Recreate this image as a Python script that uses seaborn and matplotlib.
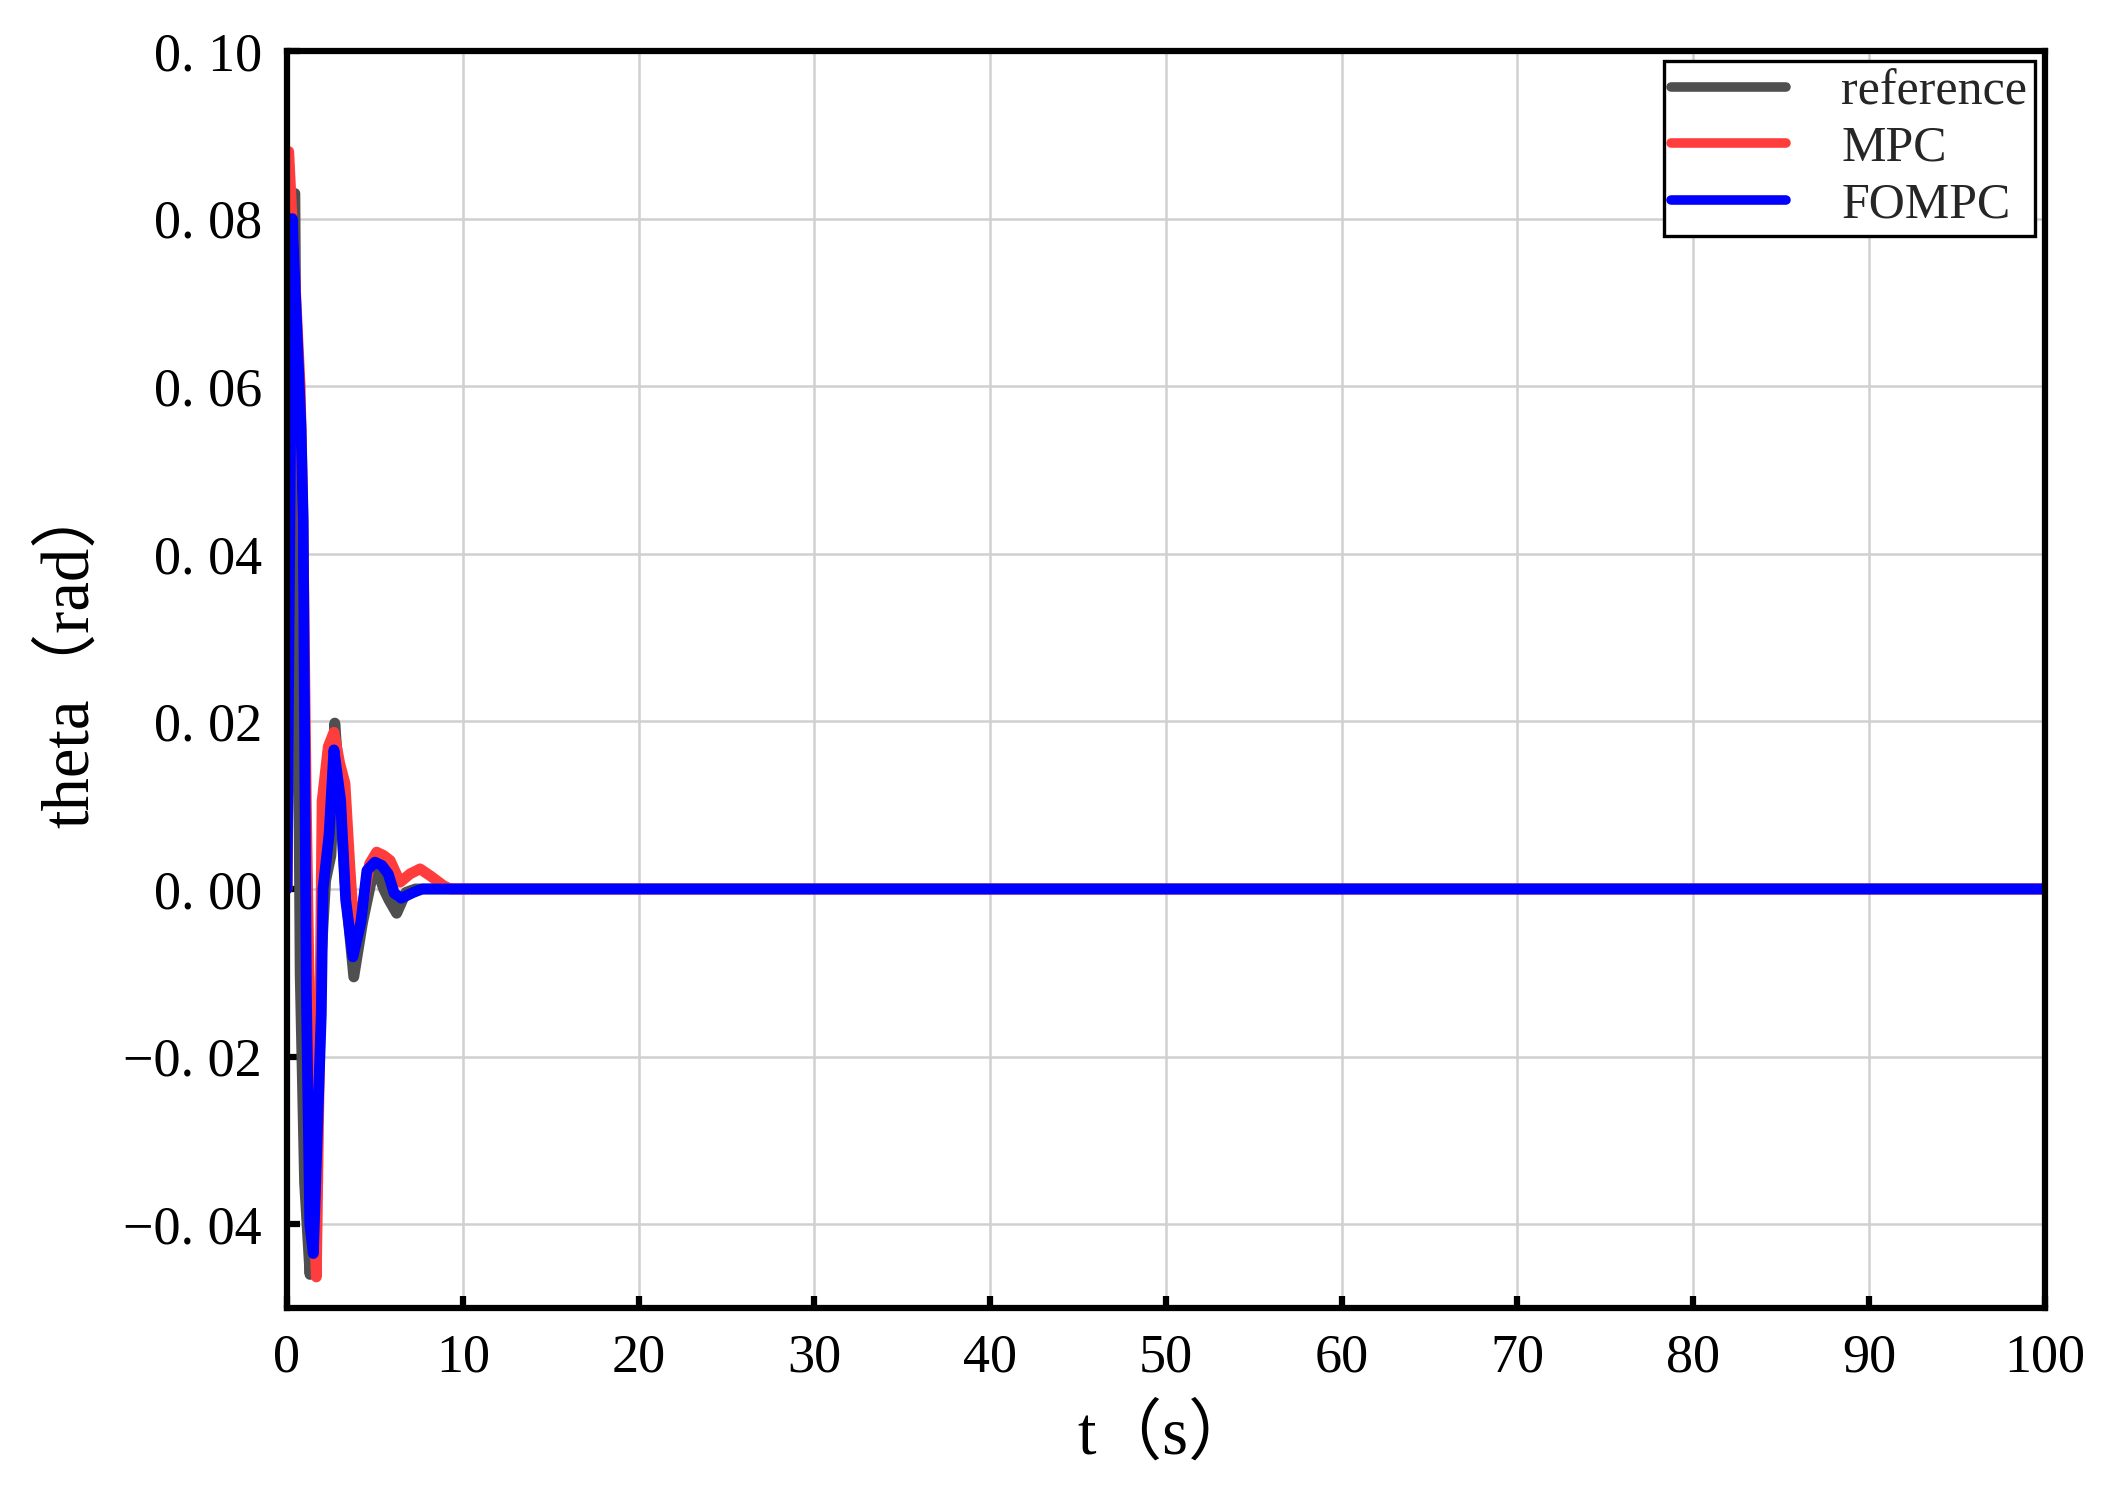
import numpy as np
import pandas as pd
import matplotlib
matplotlib.use("Agg")
import matplotlib.pyplot as plt
import seaborn as sns
from matplotlib.lines import Line2D

# ---------------- data ----------------
ref_t = [0, 0.45, 0.75, 1.0, 1.31, 1.6, 1.9, 2.2, 2.5, 2.63, 2.72, 3.0, 3.3, 3.55, 3.8, 4.3, 4.8, 5.1,
         5.5, 5.8, 6.24, 6.77, 7.3, 100]
ref_v = [0, 0.083, -0.010, -0.035, -0.046, -0.030, -0.010, 0.001, 0.004, 0.010, 0.0198, 0.012, 0.001,
         -0.005, -0.0105, -0.004, 0.001, 0.0025, 0.0, -0.0013, -0.0029, -0.0004, 0.0, 0.0]

mpc_t = [0, 0.1, 0.75, 0.9, 1.1, 1.4, 1.67, 1.85, 2.0, 2.35, 2.67, 3.0, 3.3, 3.58, 3.87, 4.3, 4.7, 5.1,
         5.5, 5.87, 6.43, 7.0, 7.57, 8.2, 8.9, 9.3, 100]
mpc_v = [0, 0.088, 0.060, 0.045, 0.010, -0.030, -0.0463, -0.020, 0.0105, 0.017, 0.0187, 0.015, 0.0126,
         0.0026, -0.0065, -0.002, 0.003, 0.0044, 0.004, 0.0034, 0.0008, 0.0018, 0.0024, 0.0015, 0.0004,
         0.0, 0.0]

fompc_t = [0, 0.3, 0.8, 0.92, 1.0, 1.1, 1.3, 1.5, 1.95, 2.05, 2.4, 2.67, 3.05, 3.34, 3.75, 4.2, 4.55,
           5.0, 5.4, 5.76, 6.1, 6.5, 7.2, 7.7, 100]
fompc_v = [0, 0.080, 0.055, 0.044, 0.020, -0.012, -0.040, -0.0435, -0.015, 0.0, 0.0066, 0.0166, 0.0106,
           -0.0013, -0.0081, -0.004, 0.0022, 0.0032, 0.0028, 0.0018, -0.0005, -0.0011, -0.0004, 0.0, 0.0]

series_names = ["reference", "MPC", "FOMPC"]
series_colors = ["#4f4f4f", "#ff3d3d", "#0000ff"]

x_ticks = [0, 10, 20, 30, 40, 50, 60, 70, 80, 90, 100]
x_tick_labels = ["0", "10", "20", "30", "40", "50", "60", "70", "80", "90", "100"]
y_ticks = [-0.04, -0.02, 0.00, 0.02, 0.04, 0.06, 0.08, 0.10]
y_tick_labels = ["\u22120. 04", "\u22120. 02", "0. 00", "0. 02", "0. 04", "0. 06", "0. 08", "0. 10"]

x_label = "t\uff08s\uff09"
y_label = "theta\uff08rad\uff09"

# ---------------- long-form table ----------------
frames = []
for name, tt, vv in zip(series_names, [ref_t, mpc_t, fompc_t], [ref_v, mpc_v, fompc_v]):
    frames.append(pd.DataFrame({"t": tt, "theta": vv, "series": name}))
df = pd.concat(frames, ignore_index=True)

# ---------------- style ----------------
sns.set_theme(style="whitegrid")
plt.rcParams["font.family"] = ["Liberation Serif", "Noto Sans CJK SC", "DejaVu Sans"]
plt.rcParams["axes.unicode_minus"] = True

fig = plt.figure(figsize=(2121 / 300, 1487 / 300), dpi=300)
ax = fig.add_axes([0.1353, 0.1204, 0.8288, 0.8453])
ax.set_facecolor("white")

palette = dict(zip(series_names, series_colors))
sns.lineplot(data=df, x="t", y="theta", hue="series", hue_order=series_names,
             palette=palette, estimator=None, sort=False, linewidth=2.6,
             ax=ax, legend=False)
for ln in ax.lines:
    ln.set_solid_joinstyle("round")
    ln.set_solid_capstyle("round")

ax.set_xlim(0, 100)
ax.set_ylim(-0.05, 0.10)
ax.set_xticks(x_ticks)
ax.set_xticklabels(x_tick_labels)
ax.set_yticks(y_ticks)
ax.set_yticklabels(y_tick_labels)

ax.grid(True, color="#d0d0d0", linewidth=0.6)
ax.set_axisbelow(True)

for sp in ax.spines.values():
    sp.set_visible(True)
    sp.set_color("black")
    sp.set_linewidth(1.5)

ax.tick_params(axis="both", which="major", direction="in", length=3, width=1.5,
               color="black", labelsize=13, pad=6,
               bottom=True, left=True, top=False, right=False)
for lab in ax.get_xticklabels() + ax.get_yticklabels():
    lab.set_color("black")

ax.set_xlabel(x_label, fontsize=16, color="black", labelpad=5)
ax.set_ylabel(y_label, fontsize=16, color="black", labelpad=5)
ax.yaxis.set_label_coords(-0.105, 0.52)

# legend
handles = [Line2D([0], [0], color=c, linewidth=2.3, solid_capstyle="round") for c in series_colors]
leg = ax.legend(handles, series_names, loc="upper right", frameon=True, fancybox=False,
                edgecolor="black", framealpha=1, fontsize=12, handlelength=2.3,
                handletextpad=1.1, labelspacing=0.2, borderaxespad=0.2, borderpad=0.15)
leg.get_frame().set_linewidth(0.8)

fig.savefig("out.png", dpi=300, facecolor="white")
